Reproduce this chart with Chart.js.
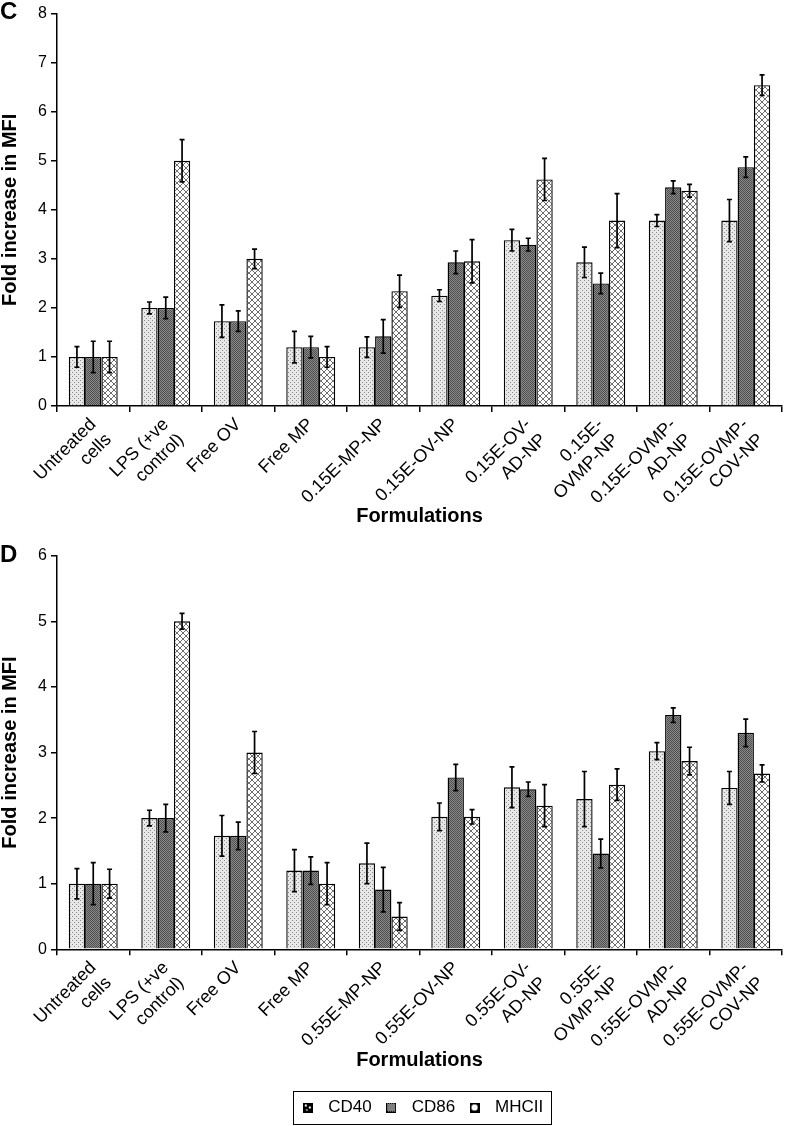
<!DOCTYPE html>
<html>
<head>
<meta charset="utf-8">
<script src="https://cdn.jsdelivr.net/npm/chart.js@4.4.1/dist/chart.umd.min.js"></script>
<style>
  html, body { margin: 0; padding: 0; background: #fff; }
  #wrap { position: relative; width: 787px; height: 1126px; }
  canvas { position: absolute; left: 0; }
  #chartC { top: 0; }
  #chartD { top: 540px; }
</style>
</head>
<body>
<div id="wrap">
  <canvas id="chartC" width="787" height="540"></canvas>
  <canvas id="chartD" width="787" height="586"></canvas>
</div>
<script>
// categories
const labelsC = [["Untreated", "cells"], ["LPS (+ve", "control)"], "Free OV", "Free MP", "0.15E-MP-NP",
  "0.15E-OV-NP", ["0.15E-OV-", "AD-NP"], ["0.15E-", "OVMP-NP"], ["0.15E-OVMP-", "AD-NP"], ["0.15E-OVMP-", "COV-NP"]];
const labelsD = [["Untreated", "cells"], ["LPS (+ve", "control)"], "Free OV", "Free MP", "0.55E-MP-NP",
  "0.55E-OV-NP", ["0.55E-OV-", "AD-NP"], ["0.55E-", "OVMP-NP"], ["0.55E-OVMP-", "AD-NP"], ["0.55E-OVMP-", "COV-NP"]];
const seriesNames = ["CD40", "CD86", "MHCII"];

// panel C values and error bars
const cd40C = [1.0, 2.0, 1.73, 1.2, 1.2, 2.25, 3.38, 2.93, 3.78, 3.78];
const cd40ErrC = [0.21, 0.12, 0.33, 0.32, 0.21, 0.12, 0.22, 0.31, 0.12, 0.43];
const cd86C = [1.0, 2.0, 1.73, 1.2, 1.42, 2.93, 3.29, 2.5, 4.46, 4.87];
const cd86ErrC = [0.32, 0.22, 0.21, 0.22, 0.34, 0.23, 0.13, 0.21, 0.13, 0.21];
const mhciiC = [1.0, 5.0, 3.0, 1.0, 2.34, 2.95, 4.62, 3.78, 4.39, 6.54];
const mhciiErrC = [0.32, 0.43, 0.2, 0.21, 0.33, 0.44, 0.43, 0.55, 0.13, 0.21];

// panel D values and error bars
const cd40D = [1.0, 2.0, 1.73, 1.2, 1.31, 2.02, 2.47, 2.29, 3.02, 2.46];
const cd40ErrD = [0.23, 0.12, 0.31, 0.32, 0.31, 0.21, 0.31, 0.42, 0.13, 0.25];
const cd86D = [1.0, 2.0, 1.73, 1.2, 0.91, 2.62, 2.44, 1.46, 3.57, 3.3];
const cd86ErrD = [0.32, 0.21, 0.21, 0.21, 0.34, 0.2, 0.11, 0.22, 0.11, 0.21];
const mhciiD = [1.0, 5.0, 3.0, 1.0, 0.5, 2.02, 2.19, 2.51, 2.87, 2.68];
const mhciiErrD = [0.22, 0.12, 0.32, 0.32, 0.21, 0.11, 0.32, 0.24, 0.21, 0.13];

const FONT = "'Liberation Sans', Arial, Helvetica, sans-serif";

function tile(size, draw) {
  const c = document.createElement("canvas");
  c.width = size;
  c.height = size;
  draw(c.getContext("2d"), size);
  return c;
}

// bar fills
const tileCD40 = tile(4, (g) => {
  g.fillStyle = "#e8e8e8"; g.fillRect(0, 0, 4, 4);
  g.fillStyle = "#8a8a8a"; g.fillRect(0, 0, 1, 1); g.fillRect(2, 2, 1, 1);
});
const tileCD86 = tile(2, (g) => {
  g.fillStyle = "#8a8a8a"; g.fillRect(0, 0, 2, 2);
  g.fillStyle = "#4e4e4e"; g.fillRect(0, 0, 1, 1); g.fillRect(1, 1, 1, 1);
});
const tileMHCII = tile(6, (g, n) => {
  g.fillStyle = "#ffffff"; g.fillRect(0, 0, n, n);
  g.fillStyle = "#6e6e6e";
  for (let i = 0; i < n; i++) { g.fillRect(i, i, 1, 1); g.fillRect(n - 1 - i, i, 1, 1); }
});

// legend icons
const iconCD40 = tile(10, (g) => {
  g.fillStyle = "#000"; g.fillRect(0, 0, 10, 10);
  g.fillStyle = "#fff"; g.fillRect(2, 2, 2, 2); g.fillRect(6, 4, 2, 2); g.fillRect(3, 7, 2, 1);
});
const iconCD86 = tile(10, (g) => {
  g.fillStyle = "#000"; g.fillRect(0, 0, 10, 10);
  g.fillStyle = "#fff";
  for (let i = 1; i < 9; i++) for (let j = 1; j < 9; j++) if ((i + j) % 2 === 0) g.fillRect(i, j, 1, 1);
});
const iconMHCII = tile(10, (g) => {
  g.fillStyle = "#000"; g.fillRect(0, 0, 10, 10);
  g.fillStyle = "#fff"; g.fillRect(3, 2, 4, 6); g.fillRect(2, 3, 6, 4);
});

const errorBars = {
  id: "errorBars",
  afterDatasetsDraw(chart) {
    const ctx = chart.ctx;
    const y = chart.scales.y;
    ctx.save();
    ctx.strokeStyle = "#000";
    ctx.lineWidth = 1.7;
    chart.data.datasets.forEach((ds, i) => {
      chart.getDatasetMeta(i).data.forEach((bar, j) => {
        const v = ds.data[j], e = ds.errors[j];
        const top = y.getPixelForValue(v + e);
        const bot = y.getPixelForValue(v - e);
        ctx.beginPath();
        ctx.moveTo(bar.x, top); ctx.lineTo(bar.x, bot);
        ctx.moveTo(bar.x - 2.5, top); ctx.lineTo(bar.x + 2.5, top);
        ctx.moveTo(bar.x - 2.5, bot); ctx.lineTo(bar.x + 2.5, bot);
        ctx.stroke();
      });
    });
    ctx.restore();
  }
};

const panelLetter = {
  id: "panelLetter",
  afterDraw(chart, args, opts) {
    const ctx = chart.ctx;
    ctx.save();
    ctx.font = "bold 24px " + FONT;
    ctx.fillStyle = "#000";
    ctx.textBaseline = "alphabetic";
    ctx.fillText(opts.text, 0, opts.y);
    ctx.restore();
  }
};

const legendFrame = {
  id: "legendFrame",
  afterDraw(chart) {
    const lg = chart.legend;
    if (!lg || !lg.options.display || !lg.legendHitBoxes || !lg.legendHitBoxes.length) return;
    const boxes = lg.legendHitBoxes;
    const first = boxes[0], last = boxes[boxes.length - 1];
    const left = first.left - 2.5;
    const right = last.left + last.width + 8;
    const top = first.top - 8.5;
    const bottom = first.top + first.height + 8.5;
    const ctx = chart.ctx;
    ctx.save();
    ctx.strokeStyle = "#000";
    ctx.lineWidth = 1;
    ctx.strokeRect(Math.round(left) + 0.5, Math.round(top) + 0.5, Math.round(right - left), Math.round(bottom - top) - 1);
    ctx.restore();
  }
};

function makeDatasets(ctx, a, ae, b, be, c, ce) {
  const fills = [ctx.createPattern(tileCD40, "repeat"), ctx.createPattern(tileCD86, "repeat"), ctx.createPattern(tileMHCII, "repeat")];
  return [[a, ae], [b, be], [c, ce]].map((s, i) => ({
    label: seriesNames[i],
    data: s[0],
    errors: s[1],
    backgroundColor: fills[i],
    borderColor: "#000",
    borderWidth: 1.4
  }));
}

function makeOptions(cfg) {
  return {
    responsive: false,
    animation: false,
    layout: { padding: { top: cfg.padTop, right: 5, left: 0, bottom: 0 } },
    datasets: { bar: { categoryPercentage: 0.675, barPercentage: 1 } },
    scales: {
      x: {
        offset: true,
        grid: { offset: true, drawOnChartArea: false, tickLength: 6, color: "#000", lineWidth: 1.5 },
        border: { color: "#000", width: 1.5 },
        ticks: { color: "#000", font: { family: FONT, size: 18 }, minRotation: 45, maxRotation: 45, autoSkip: false, padding: 2 },
        title: {
          display: true, text: "Formulations", color: "#000",
          font: { family: FONT, size: 20, weight: "bold", lineHeight: 1 },
          padding: { top: 0, bottom: cfg.titlePad }
        },
        afterFit: (s) => { s.height = cfg.xHeight; }
      },
      y: {
        min: 0,
        max: cfg.yMax,
        ticks: { stepSize: 1, color: "#000", font: { family: FONT, size: 16 }, padding: 4 },
        grid: { drawOnChartArea: false, tickLength: 6, color: "#000", lineWidth: 1.5 },
        border: { color: "#000", width: 1.5 },
        title: {
          display: true, text: "Fold increase in MFI", color: "#000",
          font: { family: FONT, size: 20, weight: "bold", lineHeight: 1 },
          padding: 0
        },
        afterFit: (s) => { s.width = 57; }
      }
    },
    plugins: {
      tooltip: { enabled: false },
      panelLetter: { text: cfg.letter, y: cfg.letterY },
      legend: {
        display: cfg.legend,
        position: "bottom",
        fullSize: false,
        labels: {
          color: "#000",
          font: { family: FONT, size: 17 },
          usePointStyle: true,
          pointStyleWidth: 24,
          padding: 7.4,
          generateLabels: () => [iconCD40, iconCD86, iconMHCII].map((icon, i) => ({
            text: seriesNames[i], pointStyle: icon, fillStyle: "#000", strokeStyle: "#000",
            lineWidth: 0, hidden: false, datasetIndex: i, fontColor: "#000"
          }))
        }
      }
    }
  };
}

const ctxC = document.getElementById("chartC").getContext("2d");
new Chart(ctxC, {
  type: "bar",
  data: { labels: labelsC, datasets: makeDatasets(ctxC, cd40C, cd40ErrC, cd86C, cd86ErrC, mhciiC, mhciiErrC) },
  options: makeOptions({ padTop: 13, yMax: 8, xHeight: 134, titlePad: 14, letter: "C", letterY: 18.5, legend: false }),
  plugins: [errorBars, panelLetter, legendFrame]
});

const ctxD = document.getElementById("chartD").getContext("2d");
new Chart(ctxD, {
  type: "bar",
  data: { labels: labelsD, datasets: makeDatasets(ctxD, cd40D, cd40ErrD, cd86D, cd86ErrD, mhciiD, mhciiErrD) },
  options: makeOptions({ padTop: 15.7, yMax: 6, xHeight: 142.3, titlePad: 21.6, letter: "D", letterY: 21.7, legend: true }),
  plugins: [errorBars, panelLetter, legendFrame]
});
</script>
</body>
</html>
